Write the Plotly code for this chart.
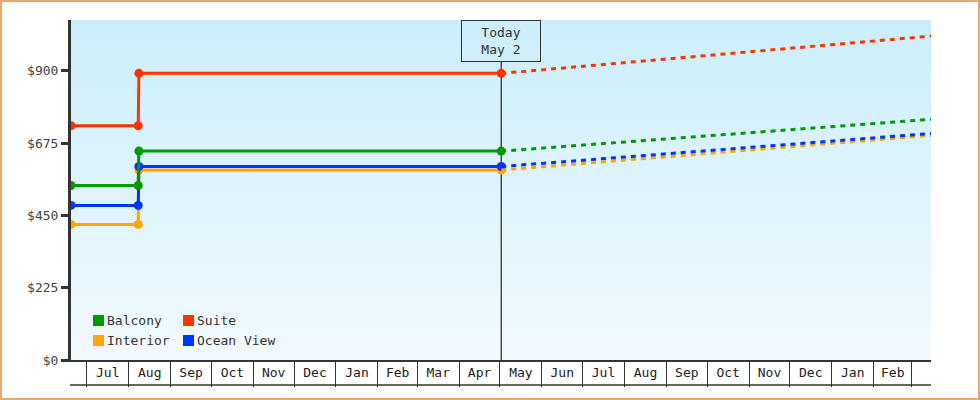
import base64
import plotly.graph_objects as go

# price history (dates where the price was recorded) and projection
hist_dates = ["2023-06-19 09:00", "2023-08-08 00:00", "2023-08-08 12:00", "2024-05-02"]
proj_dates = ["2024-05-02", "2025-03-15 06:00"]

cabins = ["Interior", "Ocean View", "Balcony", "Suite"]
colors = {"Balcony": "#009900", "Suite": "#ff3300", "Interior": "#ffa500", "Ocean View": "#0033ff"}

hist_prices = {
    "Interior": [422, 422, 591, 591],
    "Ocean View": [481, 481, 602, 602],
    "Balcony": [543, 543, 650, 650],
    "Suite": [729, 729, 892, 892],
}
proj_prices = {
    "Interior": [591, 699],
    "Ocean View": [602, 705],
    "Balcony": [650, 749],
    "Suite": [892, 1008],
}

y_ticks = [0, 225, 450, 675, 900]
y_labels = ["$0", "$225", "$450", "$675", "$900"]
x_range = ["2023-06-19 09:00", "2025-03-15 06:00"]
today = "2024-05-02"
today_label = "Today<br>May 2"

# legend layout: two columns, two rows
legend_rows = [["Balcony", "Suite"], ["Interior", "Ocean View"]]

FONT = "DejaVu Sans Mono"
INK = "#333333"

# pixel geometry of the plot area
W, H = 980, 400
L, R, T, B = 71, 49, 20, 40
PW, PH = W - L - R, H - T - B


def px_x(p):
    return (p - L) / PW


def px_y(p):
    return (H - B - p) / PH


fig = go.Figure()

for cabin in cabins:
    fig.add_trace(go.Scatter(
        x=hist_dates, y=hist_prices[cabin],
        mode="lines+markers",
        line=dict(color=colors[cabin], width=3),
        marker=dict(color=colors[cabin], size=9),
        showlegend=False, name=cabin
    ))

for cabin in cabins:
    fig.add_trace(go.Scatter(
        x=proj_dates, y=proj_prices[cabin],
        mode="lines",
        line=dict(color=colors[cabin], width=3, dash="5px,5px"),
        showlegend=False, name=cabin + " (projected)"
    ))

# gradient background as an svg image behind the plot
svg = ('<svg xmlns="http://www.w3.org/2000/svg" width="100" height="100" preserveAspectRatio="none">'
       '<defs><linearGradient id="g" x1="0" y1="0" x2="0" y2="1">'
       '<stop offset="0" stop-color="#cbeefb"/><stop offset="1" stop-color="#f2faff"/>'
       '</linearGradient></defs><rect width="100" height="100" fill="url(#g)"/></svg>')
bg_src = "data:image/svg+xml;base64," + base64.b64encode(svg.encode()).decode()

fig.add_layout_image(dict(
    source=bg_src, xref="paper", yref="paper", x=0, y=1, sizex=1, sizey=1,
    sizing="stretch", xanchor="left", yanchor="top", layer="below"
))

# today marker line and box
fig.add_shape(type="line", xref="x", yref="paper", x0=today, x1=today,
              y0=0, y1=px_y(61), line=dict(color=INK, width=1.3), layer="below")
fig.add_annotation(x=today, xref="x", y=1, yref="paper", yanchor="top",
                   text=today_label, showarrow=False, width=72, height=34,
                   bordercolor=INK, borderwidth=1, borderpad=3,
                   font=dict(family=FONT, size=13, color=INK))

# bottom line closing the month boxes
fig.add_shape(type="line", xref="paper", yref="paper", x0=px_x(70), x1=1,
              y0=px_y(385), y1=px_y(385), line=dict(color=INK, width=1.5))

# outer orange frame
fig.add_shape(type="rect", xref="paper", yref="paper",
              x0=px_x(1), x1=px_x(979), y0=px_y(399), y1=px_y(1),
              line=dict(color="#e9a96a", width=2))

# legend swatches and labels
for r, row in enumerate(legend_rows):
    for c, name in enumerate(row):
        sx = 93 + c * 90
        sy = 315 + r * 20
        fig.add_shape(type="rect", xref="paper", yref="paper",
                      x0=px_x(sx), x1=px_x(sx + 11), y0=px_y(sy + 11), y1=px_y(sy),
                      line=dict(width=0), fillcolor=colors[name])
        fig.add_annotation(x=px_x(sx + 12), y=px_y(sy + 5.5), xref="paper", yref="paper",
                           xanchor="left", yanchor="middle", text=name, showarrow=False,
                           font=dict(family=FONT, size=13, color=INK))

fig.update_layout(
    width=W, height=H,
    margin=dict(l=L, r=R, t=T, b=B),
    paper_bgcolor="white",
    plot_bgcolor="rgba(0,0,0,0)",
    font=dict(family=FONT, size=13, color=INK),
    showlegend=False,
)

fig.update_xaxes(
    type="date", range=x_range,
    dtick="M1", tick0="2023-07-01", tickformat="%b",
    ticklabelmode="period", ticklabeloverflow="hide past domain",
    ticks="outside", ticklen=25, tickwidth=1.3, tickcolor=INK,
    ticklabelstandoff=-25,
    showgrid=False, zeroline=False,
    showline=True, linecolor=INK, linewidth=1.5,
    tickfont=dict(family=FONT, size=13, color="#222"),
)

fig.update_yaxes(
    range=[0, 1058], tickvals=y_ticks, ticktext=y_labels,
    ticks="outside", ticklen=7, tickwidth=3, tickcolor=INK,
    showline=True, linecolor=INK, linewidth=3,
    showgrid=False, zeroline=False,
    tickfont=dict(family=FONT, size=13, color="#444"),
)

fig.write_html("out.html", config={"displayModeBar": False},
               post_script="document.body.style.margin='0px';")
